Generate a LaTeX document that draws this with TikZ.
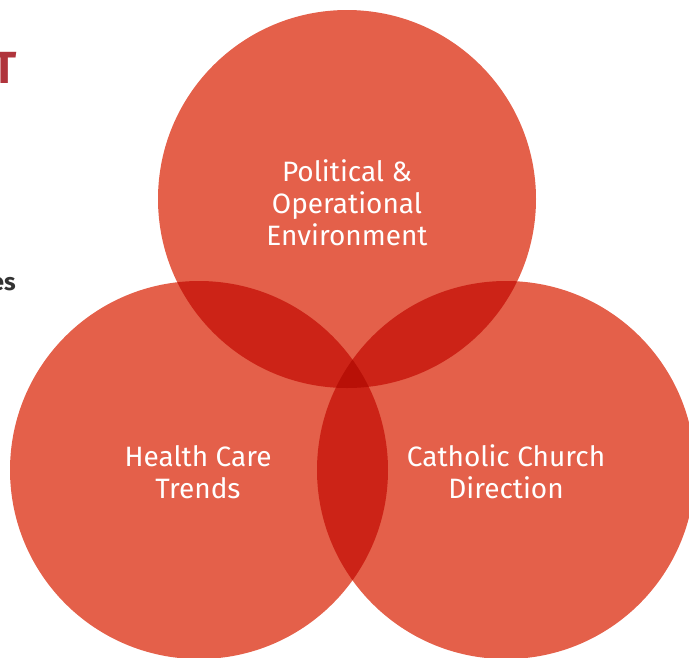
\documentclass[tikz,border=0pt]{standalone}
\usepackage{fontspec}
\setmainfont{Fira Sans}
\definecolor{cOne}{HTML}{E4604A}
\definecolor{cTwo}{HTML}{CC2317}
\definecolor{cThree}{HTML}{B81007}
\definecolor{cHead}{HTML}{B0343C}
\definecolor{cGray}{HTML}{333333}
\begin{document}
\begin{tikzpicture}[x=1pt,y=-1pt,
  lbl/.style={text=white,align=center,font=\fontsize{28}{32}\selectfont,inner sep=0pt}]
\useasboundingbox (0,0) rectangle (689,657);
\clip (0,0) rectangle (689,657);
\def\R{189}
\coordinate (ct) at (347,199);
\coordinate (cl) at (199,470);
\coordinate (cr) at (506,470);
\fill[cOne] (ct) circle (\R);
\fill[cOne] (cl) circle (\R);
\fill[cOne] (cr) circle (\R);
\begin{scope}\clip (ct) circle (\R); \fill[cTwo] (cl) circle (\R); \fill[cTwo] (cr) circle (\R);\end{scope}
\begin{scope}\clip (cl) circle (\R); \fill[cTwo] (cr) circle (\R);\end{scope}
\begin{scope}\clip (ct) circle (\R); \clip (cl) circle (\R); \fill[cThree] (cr) circle (\R);\end{scope}
\node[lbl] (tp) at (347,203) {Political \&\\Operational\\Environment};
\node[lbl] (lf) at (198,472) {Health Care\\Trends};
\node[lbl] (rt) at (506,472) {Catholic Church\\Direction};
\node[anchor=base east,inner sep=0pt,text=cHead,font=\bfseries\fontsize{45}{45}\selectfont] (hd) at (17,83) {T};
\node[anchor=base east,inner sep=0pt,text=cGray,font=\bfseries\fontsize{24}{24}\selectfont] (es) at (16,290) {es};
\end{tikzpicture}
\end{document}
